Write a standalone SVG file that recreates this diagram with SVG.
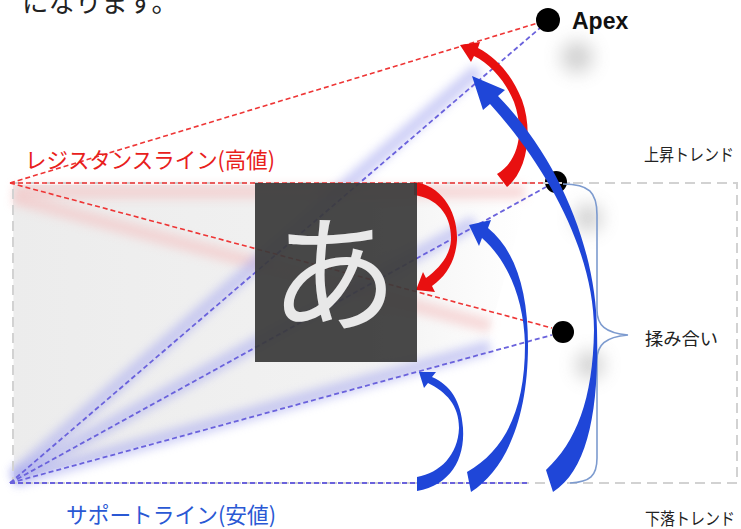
<svg xmlns="http://www.w3.org/2000/svg" width="741" height="529" viewBox="0 0 741 529">
<defs>
<filter id="blur" filterUnits="userSpaceOnUse" x="0" y="0" width="741" height="529"><feGaussianBlur stdDeviation="5"/></filter>
<filter id="blurBig" filterUnits="userSpaceOnUse" x="0" y="0" width="741" height="529"><feGaussianBlur stdDeviation="9"/></filter>
<linearGradient id="grayFill" x1="0" y1="0" x2="1" y2="0">
<stop offset="0" stop-color="#ececec"/>
<stop offset="0.7" stop-color="#f2f2f2"/>
<stop offset="1" stop-color="#ffffff"/>
</linearGradient>
<style>
.red{stroke:#ee3535;stroke-width:1.6;stroke-dasharray:5 3;fill:none}
.blue{stroke:#6a62dc;stroke-width:1.8;stroke-dasharray:5 3;fill:none}
.gray{stroke:#d2d2d2;stroke-width:2;stroke-dasharray:10 6;fill:none}
.bglow{stroke:#a9abf0;stroke-width:14;fill:none;opacity:.55;filter:url(#blur)}
.pglow{stroke:#f4c4c4;stroke-width:14;fill:none;opacity:.6;filter:url(#blur)}
.dot{fill:#000}
.shadow{fill:#9a9a9a;opacity:.45;filter:url(#blurBig)}
.barrow{fill:#1f46d8}
.rarrow{fill:#e81010}
.jp{font-family:"Noto Sans CJK JP","Noto Sans",sans-serif}
.lbl{font-size:17px;fill:#222}
</style>
</defs>
<rect width="741" height="529" fill="#fff"/>

<g id="background">
<polygon points="13,185 525,185 525,205 490,330 490,352 14,480" fill="url(#grayFill)"/>
<line class="pglow" x1="14" y1="192" x2="525" y2="192"/>
<line class="pglow" x1="14" y1="198" x2="490" y2="326"/>
<line class="bglow" x1="14" y1="476" x2="478" y2="70"/>
<line class="bglow" x1="14" y1="478" x2="475" y2="222"/>
<line class="bglow" x1="14" y1="480" x2="490" y2="347"/>
<rect class="gray" x="13" y="183" width="724" height="300"/>
</g>

<g id="connectors">
<line class="red" x1="10" y1="183" x2="545" y2="183"/>
<line class="red" x1="10" y1="183" x2="538" y2="23"/>
<line class="red" x1="10" y1="183" x2="552" y2="328"/>
<line class="blue" x1="10" y1="483" x2="530" y2="483"/>
<line class="blue" x1="10" y1="483" x2="540" y2="28"/>
<line class="blue" x1="10" y1="483" x2="546" y2="187"/>
<line class="blue" x1="10" y1="483" x2="552" y2="335"/>
</g>

<g id="shadows">
<circle class="shadow" cx="577" cy="57" r="16"/>
<circle class="shadow" cx="588" cy="218" r="14"/>
<circle class="shadow" cx="590" cy="365" r="14"/>
</g>

<g id="apex"><circle class="dot" cx="548" cy="20" r="12"/>
<text x="572" y="29" font-family="'Liberation Sans',Arial,sans-serif" font-weight="bold" font-size="23" fill="#111">Apex</text></g>
<g id="dot-upper"><circle class="dot" cx="556" cy="182" r="11"/>
<line x1="545" y1="183" x2="570" y2="183" stroke="#cfcfcf" stroke-width="2" stroke-dasharray="6 5"/></g>
<g id="dot-lower"><circle class="dot" cx="563" cy="332" r="11"/></g>

<g id="brace">
<path d="M563,184 C589,184 597,192 597,215 L597,310 C597,325 605,333 628,335 C605,337 597,345 597,360 L597,458 C597,476 590,482 570,483" fill="none" stroke="#7d9bcf" stroke-width="1.6"/>
</g>

<g id="arrows">
<path id="arrow-r2" class="rarrow" d="M414,182 C440,185 458,210 457,240 C456,258 448,275 432,286 L435,292 L416,290 L423,272 L426,278 C440,268 450,255 451,240 C452,215 437,198 414,195 Z"/>
<path id="arrow-r1" class="rarrow" d="M507,187 C528,170 533,130 522,100 C512,75 497,58 478,48 L480,42 L460,45 L471,62 L474,56 C490,64 505,80 514,102 C524,130 520,160 497,174 Z"/>
<path id="arrow-b1" class="barrow" d="M553,492 C588,470 599,410 597,330 C596,250 560,160 498,96 L505,90 L472,76 L483,110 L490,104 C545,165 594,250 594,330 C593,400 576,442 546,470 Z"/>
<path id="arrow-b2" class="barrow" d="M471,492 C505,470 528,420 528,345 C528,290 515,250 488,228 L491,220 L469,225 L479,246 L482,238 C505,258 524,295 525,345 C525,410 505,450 467,472 Z"/>
<path id="arrow-b3" class="barrow" d="M417,491 C450,485 465,460 463,428 C461,400 450,385 432,377 L436,372 L419,372 L424,388 L428,383 C446,392 459,405 459,428 C458,455 440,473 417,477 Z"/>
</g>

<g id="placeholder">
<rect x="255" y="183" width="162" height="179" fill="#3a3a3a" opacity="0.93"/>
<text x="334" y="322" text-anchor="middle" class="jp" font-size="128" fill="#e8e8e8">あ</text>
</g>

<g id="labels">
<text x="22" y="12" class="jp" font-size="26" fill="#222" textLength="156" lengthAdjust="spacingAndGlyphs">になります。</text>
<text x="25" y="168" class="jp" font-size="22" fill="#e8201c" textLength="250" lengthAdjust="spacingAndGlyphs">レジスタンスライン(高値)</text>
<text x="66" y="523" class="jp" font-size="22" fill="#2a58d4" textLength="210" lengthAdjust="spacingAndGlyphs">サポートライン(安値)</text>
<text x="644" y="161" class="jp lbl" textLength="90" lengthAdjust="spacingAndGlyphs">上昇トレンド</text>
<text x="645" y="345" class="jp lbl" textLength="73" lengthAdjust="spacingAndGlyphs">揉み合い</text>
<text x="645" y="525" class="jp lbl" textLength="90" lengthAdjust="spacingAndGlyphs">下落トレンド</text>
</g>
</svg>
